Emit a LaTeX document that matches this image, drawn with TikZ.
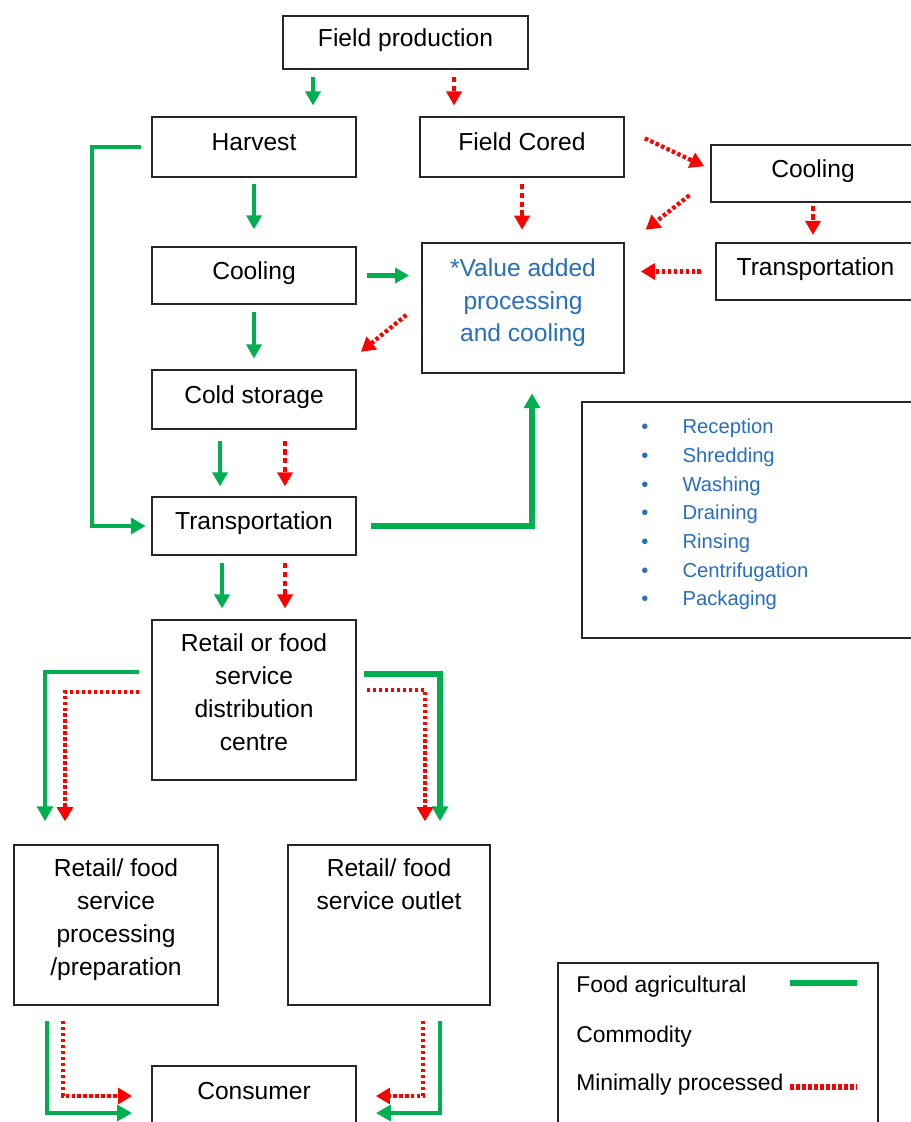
\documentclass[tikz,border=0pt]{standalone}
\usepackage{fontspec}
\setmainfont{Liberation Sans}
\usetikzlibrary{arrows.meta}
\definecolor{agrgreen}{RGB}{0,176,80}
\definecolor{mpred}{RGB}{255,0,0}
\definecolor{stepblue}{RGB}{40,110,190}

\begin{document}
\begin{tikzpicture}[x=0.02cm, y=-0.02cm,
    box/.style={draw=black!85, line width=1.1pt, align=center, inner sep=2pt,
      minimum width=4.08cm, minimum height=1.16cm,
      font=\fontsize{14}{18.7}\selectfont},
    oneline/.style={text height=10pt, text depth=5.5pt},
    manyline/.style={text depth=9pt},
    garrow/.style={draw=agrgreen, line width=2pt, -{Triangle[length=8pt,width=8.5pt]}},
    gbar/.style={draw=agrgreen, line width=2.8pt, -{Triangle[length=8.5pt,width=9pt]}},
    rdash/.style={draw=mpred, line width=1.9pt, dash pattern=on 3pt off 2pt, -{Triangle[length=8pt,width=8.5pt]}},
    rdot/.style={draw=mpred, line width=2.4pt, dash pattern=on 2pt off 1.4pt, -{Triangle[length=8pt,width=9pt]}},
    vgap/.style={shorten <=4pt, shorten >=6pt}]
    \path[use as bounding box, fill=white] (0,0) rectangle (910,1122);

    % boxes of the chain
    \node[box, oneline, minimum width=4.9cm, minimum height=1.06cm] (field) at (405.5,42.5) {Field production};
    \node[box, oneline, minimum height=1.2cm] (harvest) at (254,147) {Harvest};
    \node[box, oneline, minimum height=1.2cm] (cored) at (522,147) {Field Cored};
    \node[box, oneline, minimum height=1.14cm] (coolr) at (813,173.5) {Cooling};
    \node[box, oneline, minimum height=1.14cm] (cooll) at (254,275.5) {Cooling};
    \node[box, manyline, minimum width=4.04cm, minimum height=2.6cm, text=stepblue] (value) at (523,308) {*Value added\\processing\\and cooling};
    \node[box, oneline, minimum width=3.98cm, minimum height=1.14cm] (transr) at (815.5,271.5) {Transportation};
    \node[box, oneline, minimum height=1.18cm] (cold) at (254,399.5) {Cold storage};
    \node[box, oneline] (trans) at (254,526) {Transportation};
    \node[box, manyline, minimum height=3.2cm] (dist) at (254,700) {Retail or food\\service\\distribution\\centre};
    \node[box, manyline, minimum height=3.2cm] (prep) at (116,925) {Retail/ food\\service\\processing\\/preparation};
    \node[box, manyline, minimum width=4.04cm, minimum height=3.2cm] (outlet) at (389,925) {Retail/ food\\service outlet\\~\\~};
    \node[box, oneline, minimum height=1.2cm] (consumer) at (254,1096) {Consumer};

    % steps of the processing
    \node[draw=black!85, line width=1.1pt, minimum width=6.66cm, minimum height=4.72cm] (steps) at (748.5,520) {};
    \node[anchor=north west, inner sep=0pt, align=left, text=stepblue,
      font=\fontsize{11.5}{16.3}\selectfont] (steplist) at (641,419) {%
      \makebox[23.5pt][l]{\textbullet}Reception\\
      \makebox[23.5pt][l]{\textbullet}Shredding\\
      \makebox[23.5pt][l]{\textbullet}Washing\\
      \makebox[23.5pt][l]{\textbullet}Draining\\
      \makebox[23.5pt][l]{\textbullet}Rinsing\\
      \makebox[23.5pt][l]{\textbullet}Centrifugation\\
      \makebox[23.5pt][l]{\textbullet}Packaging};

    % legend
    \node[draw=black!85, line width=1.1pt, minimum width=6.4cm, minimum height=3.6cm] (legend) at (718,1053) {};
    \node[anchor=west, inner sep=0pt, font=\fontsize{13}{15}\selectfont] (lgreen) at (576,987) {Food agricultural};
    \node[anchor=west, inner sep=0pt, font=\fontsize{13}{15}\selectfont] (lcomm) at (576,1037) {Commodity};
    \node[anchor=west, inner sep=0pt, font=\fontsize{13}{15}\selectfont] (lred) at (576,1085) {Minimally processed};
    \draw[agrgreen, line width=3.4pt] (790,983) -- (857,983);
    \draw[mpred, line width=3.4pt, dash pattern=on 2.3pt off 1.1pt] (790,1087) -- (857,1087);

    % top part
    \draw[garrow, vgap] (field.south -| 313,0) -- (harvest.north -| 313,0);
    \draw[rdash, vgap] (field.south -| 454,0) -- (cored.north -| 454,0);
    \draw[gbar, shorten <=5.5pt, shorten >=3pt] (harvest.west) -| (92,300) |- (trans.west);
    \draw[garrow, shorten <=3.5pt, shorten >=9.5pt] (harvest.south) -- (cooll.north);
    \draw[rdot, shorten <=12.5pt, shorten >=3.7pt] (cored.east |- 0,129) -- (coolr.west |- 0,169);
    \draw[rdash, shorten <=3.5pt, shorten >=7pt] (cored.south) -- (cored.south |- value.north);
    \draw[rdot, shorten <=15pt, shorten >=15pt] (coolr.west |- 0,179) -- (value.north east |- 0,246);
    \draw[rdash, shorten <=1.5pt, shorten >=4pt] (coolr.south) -- (coolr.south |- transr.north);
    \draw[garrow, line width=2.5pt, shorten <=5.7pt, shorten >=6.8pt] (cooll.east) -- (cooll.east -| value.west);
    \draw[rdot, shorten <=8pt, shorten >=9pt] (transr.west) -- (transr.west -| value.east);
    \draw[rdot, shorten <=10.8pt, shorten >=2.9pt] (value.west |- 0,303) -- (cold.east |- 0,355);
    \draw[garrow, vgap] (cooll.south) -- (cold.north);

    % middle part
    \draw[garrow, shorten <=6pt, shorten >=5.5pt] (cold.south -| 220,0) -- (trans.north -| 220,0);
    \draw[rdash, shorten <=6pt, shorten >=5.5pt] (cold.south -| 285,0) -- (trans.north -| 285,0);
    \draw[gbar, line width=3.4pt, shorten <=8pt, shorten >=11pt] (trans.east) -| (value.south -| 532,0);
    \draw[garrow, vgap] (trans.south -| 222,0) -- (dist.north -| 222,0);
    \draw[rdash, vgap] (trans.south -| 285,0) -- (dist.north -| 285,0);

    % lower part
    \draw[gbar, shorten <=6.8pt, shorten >=13pt] (dist.west |- 0,672) -| (prep.north -| 45,0);
    \draw[rdot, shorten <=6.8pt, shorten >=13pt] (dist.west |- 0,692) -| (prep.north -| 65,0);
    \draw[gbar, line width=3.2pt, shorten <=4pt, shorten >=13pt] (dist.east |- 0,674) -| (outlet.north -| 440,0);
    \draw[rdot, shorten <=5.7pt, shorten >=13pt] (dist.east |- 0,690) -| (outlet.north -| 425,0);
    \draw[gbar, shorten <=8.5pt, shorten >=10.8pt] (prep.south -| 47,0) |- (consumer.west |- 0,1113);
    \draw[rdot, shorten <=8.5pt, shorten >=10.8pt] (prep.south -| 63,0) |- (consumer.west);
    \draw[gbar, shorten <=8.5pt, shorten >=10.8pt] (outlet.south -| 440,0) |- (consumer.east |- 0,1113);
    \draw[rdot, shorten <=8.5pt, shorten >=10.8pt] (outlet.south -| 423,0) |- (consumer.east);
\end{tikzpicture}
\end{document}
